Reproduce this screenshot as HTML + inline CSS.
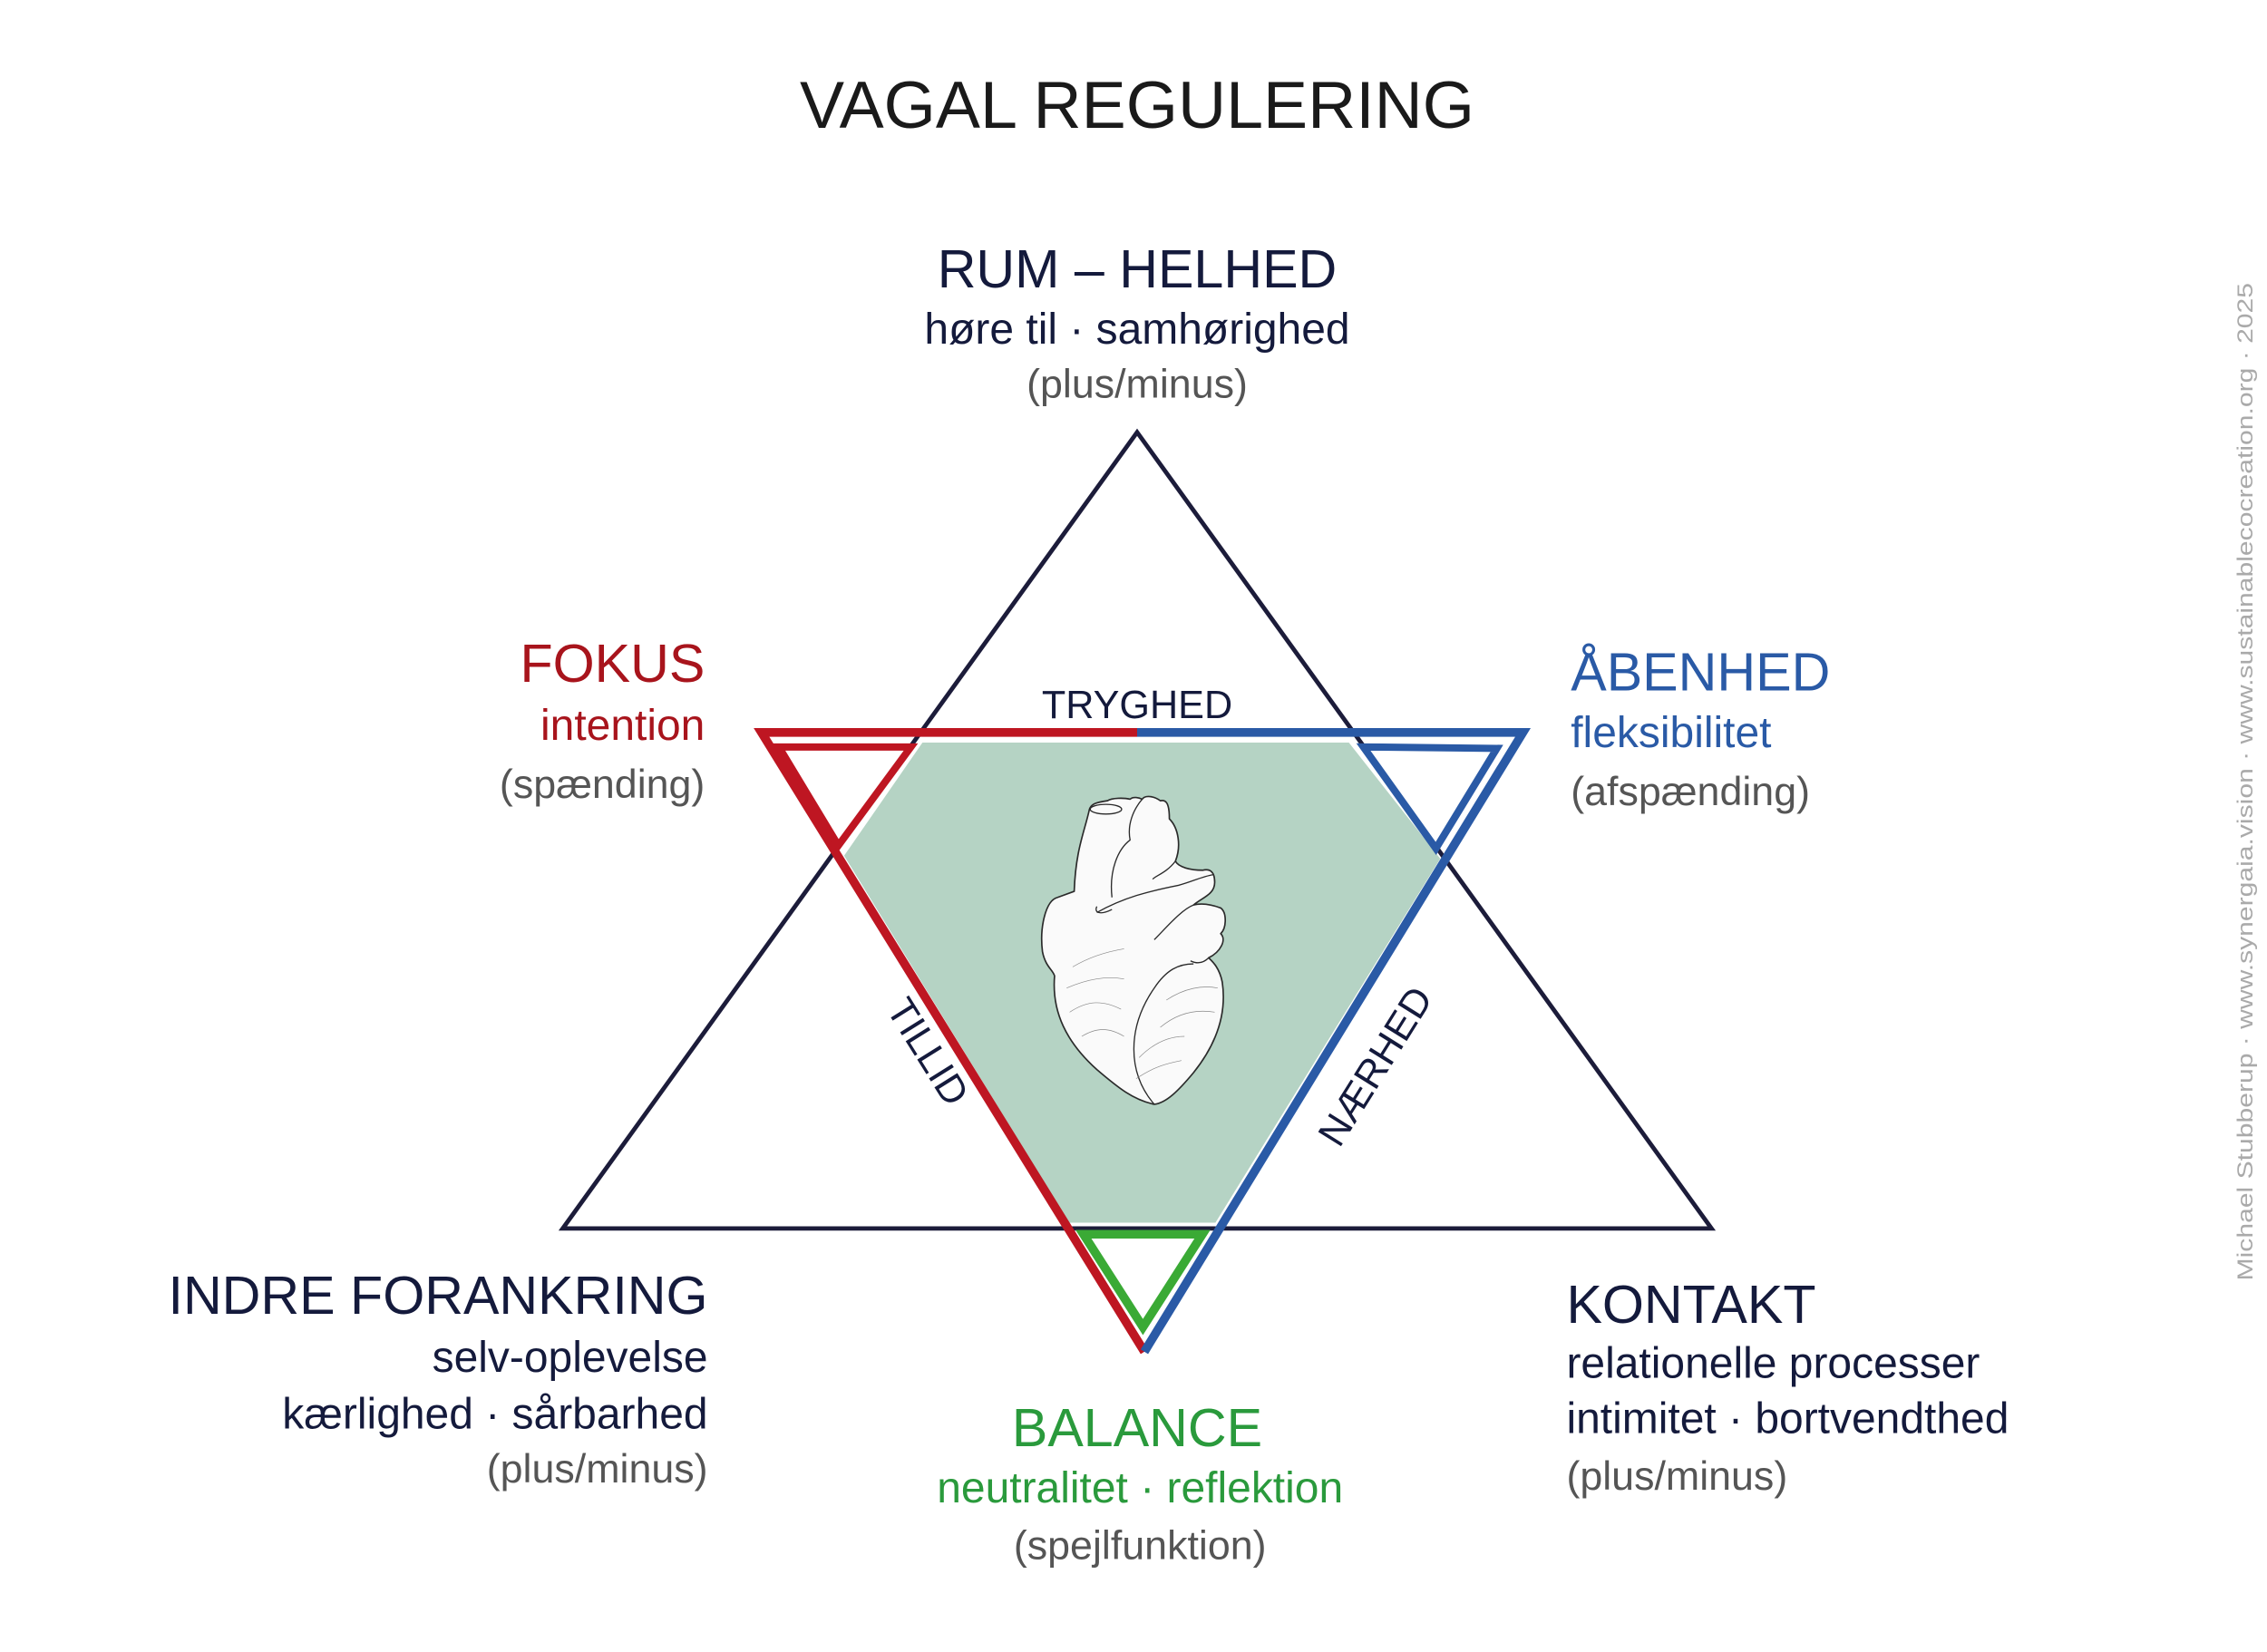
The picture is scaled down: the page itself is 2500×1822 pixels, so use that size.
<!DOCTYPE html>
<html><head><meta charset="utf-8"><style>
html,body{margin:0;padding:0;background:#fff;}
svg{display:block;}
text{font-family:"Liberation Sans",Arial,sans-serif;}
</style></head><body>
<svg width="2500" height="1822" viewBox="0 0 1563 1139" xmlns="http://www.w3.org/2000/svg">
<rect width="1563" height="1139" fill="#fff"/>
<text x="784" y="88" font-size="46" text-anchor="middle" fill="#1a1a1a">VAGAL REGULERING</text>

<!-- top label -->
<text x="784" y="198" font-size="37" text-anchor="middle" fill="#141a3c">RUM – HELHED</text>
<text x="784" y="237" font-size="30" text-anchor="middle" fill="#141a3c">høre til · samhørighed</text>
<text x="784" y="274" font-size="28" text-anchor="middle" fill="#555">(plus/minus)</text>

<!-- FOKUS -->
<text x="486" y="470" font-size="37" text-anchor="end" fill="#a8141c">FOKUS</text>
<text x="486" y="510" font-size="30" text-anchor="end" fill="#a8141c">intention</text>
<text x="486" y="550" font-size="28" text-anchor="end" fill="#555">(spænding)</text>

<!-- ÅBENHED -->
<text x="1083" y="476" font-size="37" fill="#2a5aa6">ÅBENHED</text>
<text x="1083" y="515" font-size="30" fill="#2a5aa6">fleksibilitet</text>
<text x="1083" y="555" font-size="28" fill="#555">(afspænding)</text>

<!-- INDRE FORANKRING -->
<text x="488" y="906" font-size="37" text-anchor="end" fill="#141a3c">INDRE FORANKRING</text>
<text x="488" y="946" font-size="30" text-anchor="end" fill="#141a3c">selv-oplevelse</text>
<text x="488" y="985" font-size="30" text-anchor="end" fill="#141a3c">kærlighed · sårbarhed</text>
<text x="488" y="1022" font-size="28" text-anchor="end" fill="#555">(plus/minus)</text>

<!-- KONTAKT -->
<text x="1080" y="912" font-size="37" fill="#141a3c">KONTAKT</text>
<text x="1080" y="950" font-size="30" fill="#141a3c">relationelle processer</text>
<text x="1080" y="988" font-size="30" fill="#141a3c">intimitet · bortvendthed</text>
<text x="1080" y="1027" font-size="28" fill="#555">(plus/minus)</text>

<!-- BALANCE -->
<text x="784" y="997" font-size="37" text-anchor="middle" fill="#2a9a3c">BALANCE</text>
<text x="786" y="1036" font-size="30" text-anchor="middle" fill="#2a9a3c">neutralitet · reflektion</text>
<text x="786" y="1075" font-size="28" text-anchor="middle" fill="#555">(spejlfunktion)</text>

<!-- big dark triangle -->
<polygon points="784,298 1180,847 388,847" fill="none" stroke="#1c1c3a" stroke-width="3"/>

<!-- hexagon fill -->
<polygon points="636,512 930,512 993,592 838,843 737,843 582,590" fill="#b5d3c4"/>

<!-- red half -->
<polyline points="784,505 525,505 789,932" fill="none" stroke="#be1622" stroke-width="6" stroke-linejoin="miter"/>
<polygon points="537,515 628,515 578,583" fill="none" stroke="#be1622" stroke-width="5"/>
<!-- blue half -->
<polyline points="784,505 1050,505 789,932" fill="none" stroke="#2a5aa6" stroke-width="6" stroke-linejoin="miter"/>
<polygon points="940,515 1032,516 990,585" fill="none" stroke="#2a5aa6" stroke-width="5"/>
<!-- green -->
<polygon points="747,851 829,851 788,915" fill="none" stroke="#3aaa35" stroke-width="6"/>

<text x="784" y="495" font-size="27" text-anchor="middle" fill="#141a3c">TRYGHED</text>
<text transform="translate(632,730) rotate(58)" font-size="27" text-anchor="middle" fill="#141a3c">TILLID</text>
<text transform="translate(956,740) rotate(-58)" font-size="27" text-anchor="middle" fill="#141a3c">NÆRHED</text>

<!-- heart -->
<g transform="translate(687.5,531.25) scale(0.2083)" fill="#fafafa" stroke="#2a2a2a" stroke-width="5" stroke-linejoin="round">
<path d="M200,420 C160,430 140,520 150,600 C160,650 185,660 190,680 C180,800 230,900 330,990 C400,1050 450,1090 520,1105 C560,1100 600,1060 650,1000 C730,900 760,800 745,700 C735,650 710,630 700,620 C740,600 760,560 740,540 C760,520 760,470 740,455 C700,440 670,440 650,445 C680,420 720,410 720,370 C720,330 700,325 680,330 C640,330 600,320 590,300 C610,250 600,190 570,160 C570,110 560,95 540,100 C520,85 490,80 480,95 C470,90 450,85 440,95 C420,90 380,90 365,100 C330,105 310,110 305,130 C290,200 260,260 255,400 Z"/>
<g fill="none" stroke-width="4">
<ellipse cx="360" cy="128" rx="52" ry="16"/>
<path d="M520,1105 C430,1000 430,850 520,720 C560,660 600,640 650,640"/>
<path d="M330,470 C420,420 500,400 600,380 C640,370 680,350 715,345"/>
<path d="M380,420 C370,330 400,260 440,230 C430,180 450,130 480,95"/>
<path d="M515,360 C520,350 560,340 590,300"/>
<path d="M520,560 C560,520 610,460 650,445"/>
<path d="M330,450 C320,470 340,480 380,460"/>
<path d="M700,620 C680,640 660,640 640,630"/>
</g>
<g fill="none" stroke="#888" stroke-width="2">
<path d="M250,650 C300,620 360,600 420,590"/><path d="M230,720 C300,690 360,680 420,690"/>
<path d="M240,800 C300,760 350,760 410,790"/><path d="M280,880 C330,850 370,850 420,880"/>
<path d="M470,950 C520,900 570,880 620,880"/><path d="M460,1020 C520,980 560,970 610,960"/>
<path d="M560,760 C620,720 680,710 730,720"/><path d="M540,850 C600,800 660,790 720,800"/>
</g>
</g>

<text transform="translate(1553,883) rotate(-90)" font-size="15" fill="#aaa" textLength="688" lengthAdjust="spacingAndGlyphs">Michael Stubberup · www.synergaia.vision · www.sustainablecocreation.org · 2025</text>
</svg>
</body></html>
